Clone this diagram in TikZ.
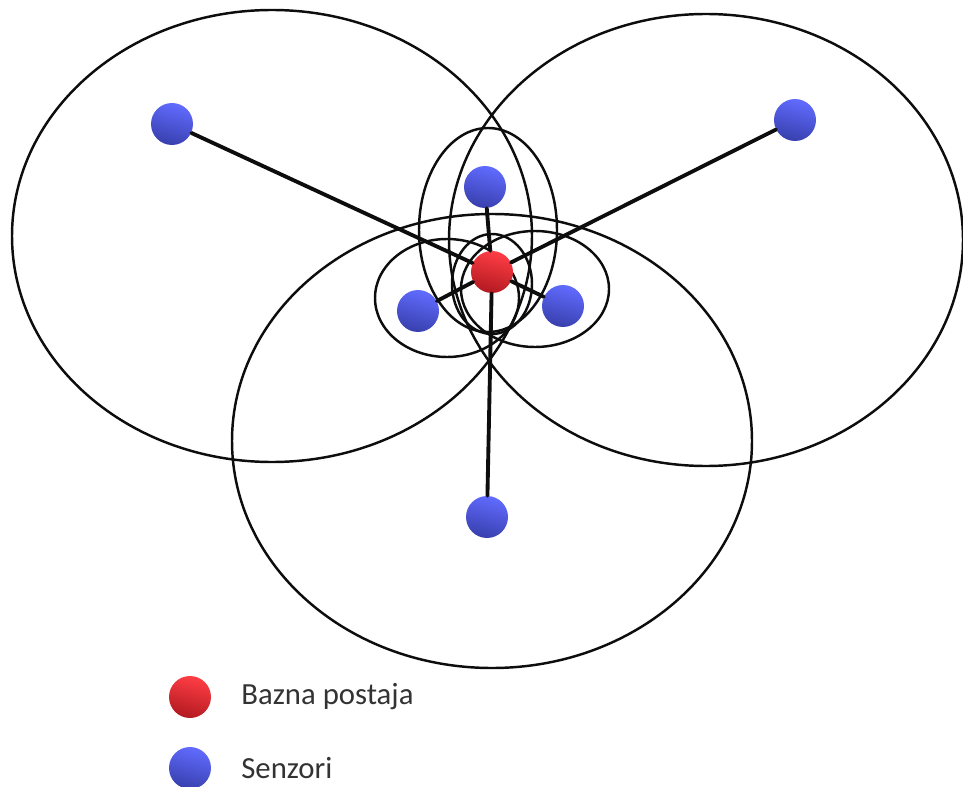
\documentclass[tikz,border=0pt]{standalone}
\usepackage{fontspec}
\setmainfont{Carlito}
\usepackage{tikz}
\definecolor{senzgore}{rgb}{0.38,0.42,1.0}
\definecolor{senzdolje}{rgb}{0.22,0.25,0.68}
\definecolor{bazgore}{rgb}{1.0,0.24,0.27}
\definecolor{bazdolje}{rgb}{0.70,0.10,0.13}
\definecolor{crta}{rgb}{0.05,0.05,0.05}

\begin{document}
\begin{tikzpicture}[line cap=round,line join=round,x=0.02cm,y=-0.02cm,
  domet/.style={color=crta,line width=1.4pt},
  veza/.style={color=crta,line width=2.2pt},
  senzor/.style={circle,inner sep=0pt,minimum size=0.84cm,top color=senzgore,bottom color=senzdolje,shading angle=-15},
  bazna/.style={circle,inner sep=0pt,minimum size=0.84cm,top color=bazgore,bottom color=bazdolje,shading angle=-15},
  opis/.style={anchor=west,inner sep=0pt,font=\fontsize{17.5}{20}\selectfont,text=black!80}]
\useasboundingbox (0,0) rectangle (963,787);
% dometi
\draw[domet] (272,236) ellipse (260 and 226);
\draw[domet] (706,240) ellipse (257 and 226);
\draw[domet] (492,441) ellipse (260 and 227);
\draw[domet] (488,230) ellipse (69 and 102);
\draw[domet] (447,298) ellipse (72 and 59);
\draw[domet] (535,289) ellipse (74 and 58);
\draw[domet] (492,284) ellipse (40 and 50);
% cvorovi
\node[bazna] (bs) at (492,272) {};
\node[senzor] (sl) at (172,124) {};
\node[senzor] (sr) at (795,120) {};
\node[senzor] (st) at (485,187) {};
\node[senzor] (sa) at (418,311) {};
\node[senzor] (sb) at (563,306) {};
\node[senzor] (sd) at (487,517) {};
\draw[veza] (sl) -- (bs);
\draw[veza] (sr) -- (bs);
\draw[veza] (st) -- (bs);
\draw[veza] (sa) -- (bs);
\draw[veza] (sb) -- (bs);
\draw[veza] (sd) -- (bs);
% legenda
\node[bazna] (lbs) at (190,697) {};
\node[senzor] (lsz) at (190,768) {};
\node[opis] (tbs) at (241,697) {Bazna postaja};
\node[opis] (tsz) at (241,768) {Senzori};
\end{tikzpicture}
\end{document}
